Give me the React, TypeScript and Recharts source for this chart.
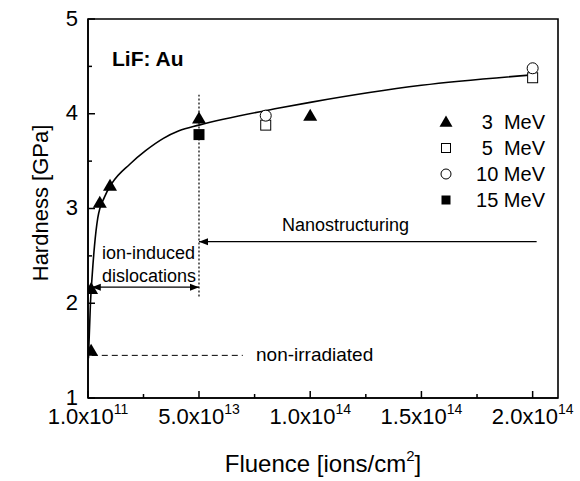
import React from 'react';
import {
  ComposedChart,
  Line,
  Scatter,
  XAxis,
  YAxis,
  ReferenceLine,
  ReferenceArea,
  Customized,
} from 'recharts';

const FONT = '"Liberation Sans", Arial, Helvetica, sans-serif';

// fluence axis (ions/cm^2)
const xMin = 1e11;
const xMax = 2.114e14;
const xMajorTicks = [1e11, 5e13, 1e14, 1.5e14, 2e14];
const xTickBase = ['1.0x10', '5.0x10', '1.0x10', '1.5x10', '2.0x10'];
const xTickExp = ['11', '13', '14', '14', '14'];
const xMinorTicks = [2.505e13, 7.5e13, 1.25e14, 1.75e14];

// hardness axis (GPa)
const yMajorTicks = [1, 2, 3, 4, 5];
const yMinorTicks = [1.5, 2.5, 3.5, 4.5];

// measured hardness per ion energy
const mev3Fluence = [1.5e12, 1.5e12, 5.4e12, 1.0e13, 5.0e13, 1.0e14];
const mev3Hardness = [1.5, 2.15, 3.06, 3.24, 3.95, 3.98];
const mev5Fluence = [8.0e13, 2.0e14];
const mev5Hardness = [3.88, 4.38];
const mev10Fluence = [8.0e13, 2.0e14];
const mev10Hardness = [3.98, 4.48];
const mev15Fluence = [5.0e13];
const mev15Hardness = [3.78];

// fitted trend line
const fitFluence = [3e11, 1.2e12, 2.0e12, 3.0e12, 4.5e12, 7.5e12, 1.1e13, 1.9e13, 2.6e13, 3.4e13, 4.1e13, 5.0e13, 8.6e13, 1.0e14, 1.5e14, 2.0e14];
const fitHardness = [1.42, 2.0, 2.3, 2.6, 2.9, 3.12, 3.27, 3.47, 3.61, 3.74, 3.82, 3.88, 4.06, 4.12, 4.3, 4.41];

const legendLabels = ['3  MeV', '5  MeV', '10 MeV', '15 MeV'];

// annotation lines
const dividerFluence = 5e13;
const dividerHardness = [2.07, 4.2];
const unirradiatedHardness = 1.45;
const unirradiatedFluence = [1.8e12, 6.97e13];
const dislocationHardness = 2.17;
const dislocationFluence = [1.8e12, 5e13];
const nanoHardness = 2.65;
const nanoFluence = [2.018e14, 5e13];

const toPoints = (xs: number[], ys: number[]) => xs.map((x, i) => ({ x, y: ys[i] }));

const mev3Data = toPoints(mev3Fluence, mev3Hardness);
const mev5Data = toPoints(mev5Fluence, mev5Hardness);
const mev10Data = toPoints(mev10Fluence, mev10Hardness);
const mev15Data = toPoints(mev15Fluence, mev15Hardness);
const fitData = toPoints(fitFluence, fitHardness);

const Triangle = ({ cx, cy, s = 14 }: any) => (
  <polygon
    points={`${cx},${cy - s / 2} ${cx - s / 2},${cy + s * 0.36} ${cx + s / 2},${cy + s * 0.36}`}
    fill="#000"
  />
);
const OpenSquare = ({ cx, cy, s = 10 }: any) => (
  <rect x={cx - s / 2} y={cy - s / 2} width={s} height={s} fill="#fff" stroke="#000" strokeWidth={1} />
);
const OpenCircle = ({ cx, cy, s = 11 }: any) => (
  <circle cx={cx} cy={cy} r={s / 2} fill="#fff" stroke="#000" strokeWidth={1} />
);
const FilledSquare = ({ cx, cy, s = 11 }: any) => (
  <rect x={cx - s / 2} y={cy - s / 2} width={s} height={s} fill="#000" />
);

const legendMarkers = [Triangle, OpenSquare, OpenCircle, FilledSquare];
const legendSizes = [13, 9, 10, 9];

function XTick({ x, y, payload }: any) {
  const i = xMajorTicks.indexOf(payload.value);
  const major = i >= 0;
  return (
    <g>
      <line x1={x} x2={x} y1={y} y2={y - (major ? 7 : 4)} stroke="#000" strokeWidth={1.5} />
      {major && (
        <text x={x} y={y + 26} textAnchor="middle" fontSize={22} fill="#000" fontFamily={FONT}>
          {xTickBase[i]}
          <tspan dy={-10} fontSize={14}>{xTickExp[i]}</tspan>
        </text>
      )}
    </g>
  );
}

function YTick({ x, y, payload }: any) {
  const major = yMajorTicks.includes(payload.value);
  return (
    <g>
      <line x1={x} x2={x + (major ? 7 : 4)} y1={y} y2={y} stroke="#000" strokeWidth={1.5} />
      {major && (
        <text x={x - 10} y={y + 6.5} textAnchor="end" fontSize={22} fill="#000" fontFamily={FONT}>
          {payload.value}
        </text>
      )}
    </g>
  );
}

// horizontal line with filled arrow heads at either end
const arrowShape = (startHead: boolean, endHead: boolean) => (props: any) => {
  const { x1, y1, x2, y2 } = props;
  const head = (px: number, py: number, dir: number) => (
    <polygon points={`${px},${py} ${px - dir * 9},${py - 3.5} ${px - dir * 9},${py + 3.5}`} fill="#000" />
  );
  const dir = Math.sign(x2 - x1) || 1;
  return (
    <g>
      <line x1={x1} y1={y1} x2={x2} y2={y2} stroke="#000" strokeWidth={1.3} />
      {startHead && head(x1, y1, -dir)}
      {endHead && head(x2, y2, dir)}
    </g>
  );
};

function Labels() {
  return (
    <g fontFamily={FONT} fill="#000">
      <text x={112} y={66} fontSize={21} fontWeight="bold">LiF: Au</text>
      <text x={282} y={231} fontSize={18}>Nanostructuring</text>
      <text x={102} y={259} fontSize={18}>ion-induced</text>
      <text x={102} y={282} fontSize={18}>dislocations</text>
      <text x={256} y={361} fontSize={19}>non-irradiated</text>
      {legendLabels.map((label, i) => {
        const Marker = legendMarkers[i];
        const cy = 122 + i * 26;
        return (
          <g key={label}>
            <Marker cx={446} cy={cy} s={legendSizes[i]} />
            <text x={545} y={cy + 7} fontSize={20} textAnchor="end" style={{ whiteSpace: 'pre' }}>
              {label}
            </text>
          </g>
        );
      })}
      <text x={323} y={472} fontSize={24} textAnchor="middle">
        Fluence [ions/cm
        <tspan dy={-11} fontSize={15}>2</tspan>
        <tspan dy={11}>]</tspan>
      </text>
      <text x={48} y={203} fontSize={22} textAnchor="middle" transform="rotate(-90 48 203)">
        Hardness [GPa]
      </text>
    </g>
  );
}

export default function App() {
  return (
    <div style={{ position: 'absolute', left: 0, top: 0, width: 580, height: 481, background: '#fff', fontFamily: FONT }}>
      <ComposedChart width={580} height={481} margin={{ top: 19, right: 22, bottom: 0, left: 0 }}>
        <XAxis
          type="number"
          dataKey="x"
          domain={[xMin, xMax]}
          allowDataOverflow
          ticks={[...xMajorTicks, ...xMinorTicks]}
          interval={0}
          tickLine={false}
          tickSize={0}
          tickMargin={0}
          tick={<XTick />}
          height={83}
          axisLine={{ stroke: '#000', strokeWidth: 1.6 }}
        />
        <YAxis
          type="number"
          dataKey="y"
          domain={[1, 5]}
          allowDataOverflow
          ticks={[...yMajorTicks, ...yMinorTicks]}
          interval={0}
          tickLine={false}
          tickSize={0}
          tickMargin={0}
          tick={<YTick />}
          width={88}
          axisLine={{ stroke: '#000', strokeWidth: 1.6 }}
        />
        <ReferenceArea x1={xMin} x2={xMax} y1={1} y2={5} fill="none" stroke="#000" strokeWidth={1.6} />
        <ReferenceLine
          segment={[{ x: dividerFluence, y: dividerHardness[0] }, { x: dividerFluence, y: dividerHardness[1] }]}
          stroke="#000"
          strokeWidth={1.2}
          strokeDasharray="2 2"
        />
        <ReferenceLine
          segment={[{ x: unirradiatedFluence[0], y: unirradiatedHardness }, { x: unirradiatedFluence[1], y: unirradiatedHardness }]}
          stroke="#000"
          strokeWidth={1}
          strokeDasharray="6 4"
        />
        <ReferenceLine
          segment={[{ x: dislocationFluence[0], y: dislocationHardness }, { x: dislocationFluence[1], y: dislocationHardness }]}
          shape={arrowShape(true, true)}
        />
        <ReferenceLine
          segment={[{ x: nanoFluence[0], y: nanoHardness }, { x: nanoFluence[1], y: nanoHardness }]}
          shape={arrowShape(false, true)}
        />
        <Line
          data={fitData}
          dataKey="y"
          type="monotone"
          stroke="#000"
          strokeWidth={1.6}
          dot={false}
          activeDot={false}
          isAnimationActive={false}
        />
        <Scatter data={mev3Data} shape={(p: any) => <Triangle cx={p.cx} cy={p.cy} />} isAnimationActive={false} />
        <Scatter data={mev5Data} shape={(p: any) => <OpenSquare cx={p.cx} cy={p.cy} />} isAnimationActive={false} />
        <Scatter data={mev10Data} shape={(p: any) => <OpenCircle cx={p.cx} cy={p.cy} />} isAnimationActive={false} />
        <Scatter data={mev15Data} shape={(p: any) => <FilledSquare cx={p.cx} cy={p.cy} />} isAnimationActive={false} />
        <Customized component={<Labels />} />
      </ComposedChart>
    </div>
  );
}
